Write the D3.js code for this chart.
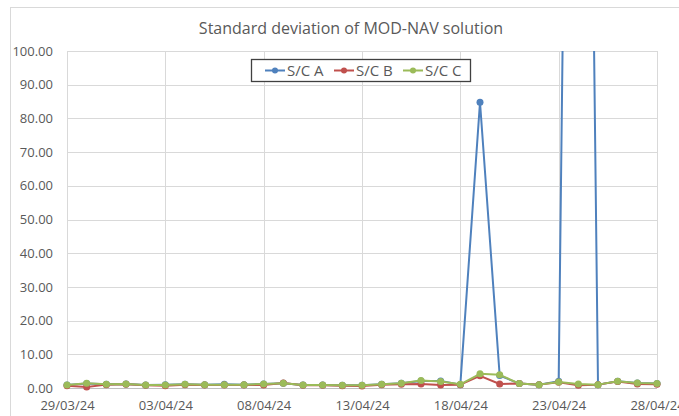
<!DOCTYPE html>
<html>
<head>
<meta charset="utf-8">
<script src="https://cdn.jsdelivr.net/npm/d3@7"></script>
<style>
  html, body { margin: 0; padding: 0; background: #fff; }
  svg { display: block; }
  text { font-family: "Open Sans", "Noto Sans", sans-serif; }
</style>
</head>
<body>
<svg id="chart" width="679" height="416"></svg>
<script>
const title = "Standard deviation of MOD-NAV solution";
const dates = ["2024-03-29","2024-03-30","2024-03-31","2024-04-01","2024-04-02","2024-04-03","2024-04-04","2024-04-05",
  "2024-04-06","2024-04-07","2024-04-08","2024-04-09","2024-04-10","2024-04-11","2024-04-12","2024-04-13",
  "2024-04-14","2024-04-15","2024-04-16","2024-04-17","2024-04-18","2024-04-19","2024-04-20","2024-04-21",
  "2024-04-22","2024-04-23","2024-04-24","2024-04-25","2024-04-26","2024-04-27","2024-04-28"];
const seriesNames = ["S/C A", "S/C B", "S/C C"];
const seriesColors = ["#4F81BD", "#C0504D", "#9BBB59"];
const scA = [0.9,1.3,1.1,1.2,0.9,1.0,1.1,1.0,1.1,1.0,1.2,1.4,0.9,0.9,0.8,0.8,1.1,1.4,2.1,2.1,1.0,84.8,3.7,1.3,1.0,2.0,500,1.0,2.0,1.5,1.3];
const scB = [0.7,0.3,1.0,1.1,0.8,0.7,1.0,0.9,0.9,0.9,0.9,1.5,0.8,0.8,0.7,0.6,1.0,1.1,1.2,0.9,1.0,3.6,1.2,1.3,1.0,1.7,0.8,1.0,1.9,1.2,1.1];
const scC = [0.9,1.4,1.1,1.2,0.9,0.9,1.1,1.0,1.0,1.0,1.2,1.4,0.9,0.9,0.8,0.8,1.1,1.4,2.2,1.9,1.1,4.2,3.9,1.3,1.0,1.8,1.2,1.0,2.0,1.5,1.3];
const yTicks = [0,10,20,30,40,50,60,70,80,90,100];
const xTickDates = ["2024-03-29","2024-04-03","2024-04-08","2024-04-13","2024-04-18","2024-04-23","2024-04-28"];

const parse = d3.utcParse("%Y-%m-%d");
const fmt = d3.utcFormat("%d/%m/%y");
const svg = d3.select("#chart");
const plot = {left: 67, right: 657, top: 51, bottom: 388};

// chart frame
svg.append("rect").attr("x", 10.5).attr("y", 7.5).attr("width", 700).attr("height", 430)
  .attr("fill", "#fff").attr("stroke", "#d9d9d9");

const x = d3.scaleUtc().domain([parse(dates[0]), parse(dates[dates.length-1])]).range([plot.left, plot.right]);
const y = d3.scaleLinear().domain([0, 100]).range([plot.bottom, plot.top]);

// horizontal grid
svg.append("g").selectAll("line").data(yTicks.filter(d => d > 0)).join("line")
  .attr("x1", plot.left).attr("x2", plot.right)
  .attr("y1", d => Math.round(y(d)) + 0.5).attr("y2", d => Math.round(y(d)) + 0.5)
  .attr("stroke", "#d9d9d9").attr("stroke-width", 1);
// vertical grid
svg.append("g").selectAll("line").data(xTickDates.map(parse)).join("line")
  .attr("x1", d => Math.round(x(d)) + 0.5).attr("x2", d => Math.round(x(d)) + 0.5)
  .attr("y1", plot.top).attr("y2", plot.bottom)
  .attr("stroke", "#d9d9d9").attr("stroke-width", 1);

// y axis labels
const yAxis = d3.axisLeft(y).tickValues(yTicks).tickFormat(d3.format(".2f")).tickSize(0).tickPadding(14);
const gy = svg.append("g").attr("transform", `translate(${plot.left},0)`).call(yAxis);
gy.select(".domain").remove();
gy.selectAll("text").attr("fill", "#595959").style("font-size", "13px")
  .style("font-family", "'Open Sans', sans-serif");

// x axis
const xAxis = d3.axisBottom(x).tickValues(xTickDates.map(parse)).tickFormat(fmt).tickSize(0).tickPadding(13);
const gx = svg.append("g").attr("transform", `translate(0,${plot.bottom})`).call(xAxis);
gx.select(".domain").attr("stroke", "#bfbfbf").attr("d", `M${plot.left},0.5H${plot.right}`);
gx.selectAll("text").attr("fill", "#595959").style("font-size", "13px")
  .style("font-family", "'Open Sans', sans-serif");

// clip
svg.append("clipPath").attr("id", "clip").append("rect")
  .attr("x", plot.left - 10).attr("y", plot.top).attr("width", plot.right - plot.left + 20).attr("height", plot.bottom - plot.top + 10);

const series = [scA, scB, scC];
const line = d3.line().x((d, i) => x(parse(dates[i]))).y(d => y(d));
const g = svg.append("g").attr("clip-path", "url(#clip)");
series.forEach((vals, si) => {
  g.append("path").datum(vals).attr("d", line)
    .attr("fill", "none").attr("stroke", seriesColors[si]).attr("stroke-width", 2).attr("stroke-linejoin", "round");
  g.append("g").selectAll("circle").data(vals).join("circle")
    .attr("cx", (d, i) => x(parse(dates[i]))).attr("cy", d => y(d)).attr("r", 3.5)
    .attr("fill", seriesColors[si]);
});

// title
svg.append("text").attr("x", 351).attr("y", 34).attr("text-anchor", "middle")
  .attr("fill", "#595959").style("font-size", "16px").text(title);

// legend
const lg = svg.append("g");
lg.append("rect").attr("x", 251.5).attr("y", 59.5).attr("width", 219).attr("height", 22)
  .attr("fill", "#fff").attr("stroke", "#404040").attr("stroke-width", 1.3);
const legendX = [265, 334, 403];
seriesNames.forEach((n, i) => {
  const gi = lg.append("g").attr("transform", `translate(${legendX[i]},70.5)`);
  gi.append("line").attr("x1", 0).attr("x2", 20).attr("stroke", seriesColors[i]).attr("stroke-width", 2);
  gi.append("circle").attr("cx", 10).attr("r", 3).attr("fill", seriesColors[i]);
  gi.append("text").attr("x", 22).attr("y", 5.5).attr("fill", "#595959").style("font-size", "15px").text(n);
});
</script>
</body>
</html>
